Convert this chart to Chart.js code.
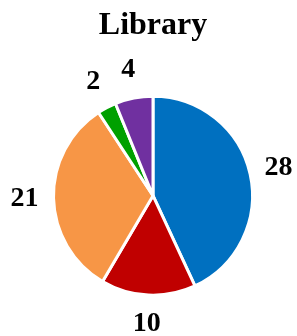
<!DOCTYPE html>
<html>
<head>
<meta charset="utf-8">
<script src="https://cdn.jsdelivr.net/npm/chart.js@4/dist/chart.umd.min.js"></script>
<style>
  html, body { margin: 0; padding: 0; background: #fff; }
  canvas { display: block; }
</style>
</head>
<body>
<canvas id="pieChart" width="297" height="336"></canvas>
<script>
// Values, clockwise from 12 o'clock
const categories = ['A', 'B', 'C', 'D', 'E'];
const values = [28, 10, 21, 2, 4];
const sliceColors = ['#0070C0', '#C00000', '#F79646', '#00A000', '#7030A0'];
const chartTitle = 'Library';

// Draw the value of each slice outside the pie, along its middle angle
const outsideLabels = {
  id: 'outsideLabels',
  afterDatasetsDraw(chart) {
    const ctx = chart.ctx;
    const meta = chart.getDatasetMeta(0);
    ctx.save();
    ctx.font = 'bold 28px "Liberation Serif", serif';
    ctx.fillStyle = '#000';
    ctx.textAlign = 'center';
    ctx.textBaseline = 'middle';
    meta.data.forEach((arc, i) => {
      const p = arc.getProps(['x', 'y', 'startAngle', 'endAngle', 'outerRadius'], true);
      const mid = (p.startAngle + p.endAngle) / 2;
      const r = p.outerRadius + 29;
      ctx.fillText(String(values[i]), p.x + Math.cos(mid) * r, p.y + Math.sin(mid) * r);
    });
    ctx.restore();
  }
};

const ctx = document.getElementById('pieChart').getContext('2d');
new Chart(ctx, {
  type: 'pie',
  data: {
    labels: categories,
    datasets: [{
      data: values,
      backgroundColor: sliceColors,
      borderColor: '#fff',
      borderWidth: 3
    }]
  },
  options: {
    responsive: false,
    animation: false,
    events: [],
    layout: { padding: { left: 52, right: 43, top: 0, bottom: 0 } },
    plugins: {
      legend: { display: false },
      tooltip: { enabled: false },
      title: {
        display: true,
        text: chartTitle,
        color: '#000',
        font: { family: '"Liberation Serif", serif', size: 32, weight: 'bold' },
        padding: { top: 7, bottom: 10 }
      }
    }
  },
  plugins: [outsideLabels]
});
</script>
</body>
</html>
